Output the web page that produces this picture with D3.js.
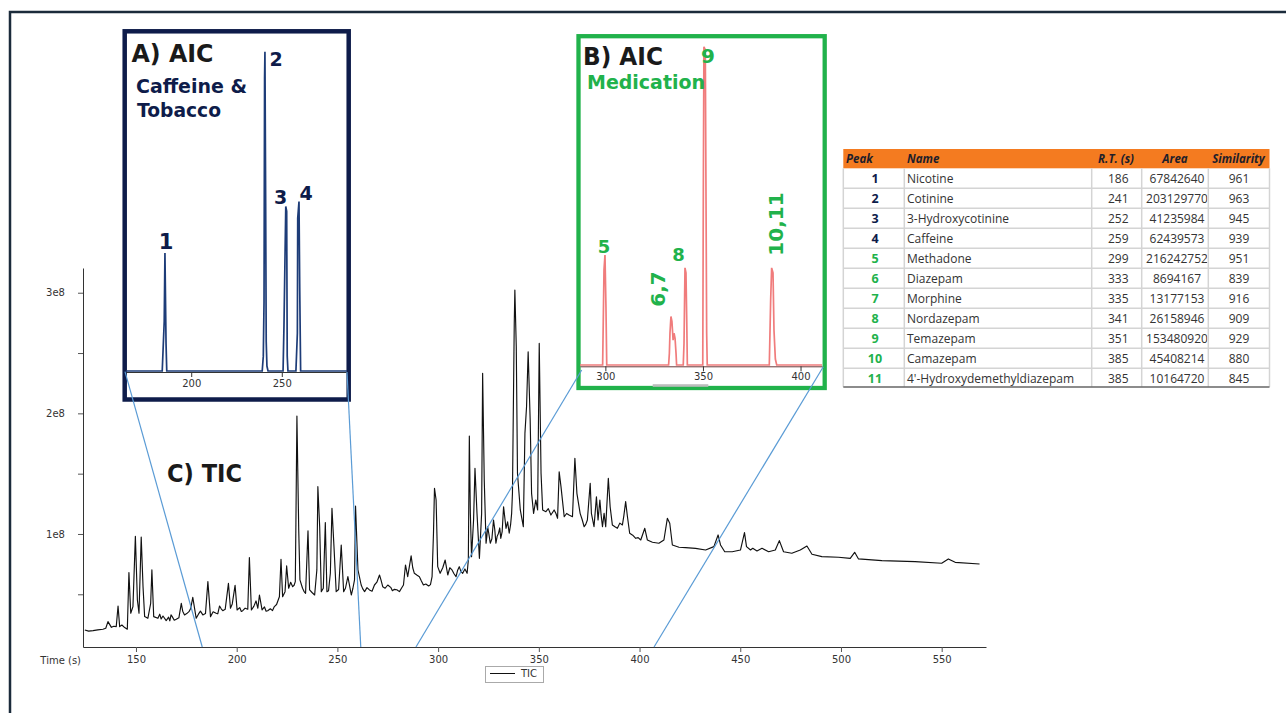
<!DOCTYPE html>
<html><head><meta charset="utf-8">
<script src="https://cdn.jsdelivr.net/npm/d3@7"></script>
<style>body{margin:0;background:#fff}svg{display:block}</style>
</head><body>
<svg id="c" width="1286" height="713"></svg>
<script>
// ---------- DATA ----------
// TIC chromatogram: time (s) and intensity (in units of 1e6 counts) — main peaks
const ticTimes = [124.6,128.7,133.6,136.1,137.8,140.2,141.1,141.9,144.4,145.7,146.5,147.4,148.5,149.7,150.7,151.5,152.6,153.5,154.3,155.9,157.3,157.9,158.8,160.9,163.4,165.0,168.0,170.0,172.5,174.1,176.3,178.2,179.9,183.2,185.7,187.0,189.8,191.5,193.1,195.9,196.9,199.2,200.2,203.0,205.5,206.3,207.3,209.6,210.5,211.3,212.6,215.4,218.7,221.2,222.0,222.8,224.0,224.8,225.8,227.8,229.1,229.4,229.9,230.8,231.4,232.7,234.2,235.4,236.2,238.7,239.8,240.3,241.2,242.0,244.0,244.8,246.5,247.3,248.3,249.4,251.9,253.1,255.2,256.9,258.5,259.0,260.2,261.8,263.5,265.9,268.4,270.9,272.5,275.0,278.3,280.8,282.8,283.8,284.9,286.6,288.2,290.7,292.7,295.3,297.0,297.7,298.2,299.0,299.8,301.0,303.5,304.8,306.9,308.9,310.5,312.2,314.4,315.0,315.5,316.0,316.6,317.6,318.3,319.3,320.5,321.6,322.1,322.9,323.8,324.6,325.9,327.5,328.7,330.0,331.1,332.5,333.7,335.3,336.5,336.9,337.8,338.1,338.8,339.4,340.8,342.3,343.1,343.9,344.7,345.7,346.4,347.4,348.5,349.4,350.2,351.1,351.9,353.5,356.0,357.6,359.3,360.1,361.0,362.6,365.0,366.7,367.9,368.9,370.5,372.5,374.1,375.5,376.1,377.4,378.6,379.4,380.3,381.6,382.4,383.2,384.5,385.4,386.5,389.0,391.5,393.1,394.0,395.1,398.1,400.6,402.6,403.9,406.4,409.6,412.1,413.8,415.0,416.3,419.6,422.9,427.8,432.8,436.9,439.0,440.2,442.3,446.0,450.1,452.1,453.1,455.1,456.2,458.3,460.8,464.1,467.4,469.4,471.5,475.6,479.8,483.1,485.6,490.5,498.8,504.6,506.8,508.7,520.3,536.8,550.0,553.3,556.7,568.8];
const ticValues = [20.4,19.9,21.0,27.3,22.6,23.2,40.3,23.2,22.4,21.0,68,34.3,39.8,98,45.3,34.3,97.4,56.3,31.5,30.1,42.5,70.2,31.5,30.1,32.0,28.2,31.5,29.3,42.5,32.9,35.6,47.5,30.1,32.9,60.5,31.5,34.3,40.3,36.4,59.1,38.4,57.4,37.0,36.4,37.6,80.4,37.0,44.5,38.4,49.4,37.0,36.4,39.8,48.0,79,48.0,52.2,73.5,55.0,56.3,60.5,108.9,197.8,103.3,61.9,55.0,50.8,102.7,53.6,49.4,70.2,139.2,106,52.2,109.4,52.2,67.4,121.3,89.5,52.2,90.9,52.2,64.6,49.4,61.9,123.2,70.2,57.7,52.2,53.6,57.7,66.0,56.3,57.7,54.1,52.2,57.7,74.3,64.6,81.8,67.4,64.6,57.7,56.9,64.6,100.6,137.9,128.2,72.9,67.4,78.4,66.0,70.2,64.6,72.9,67.4,67.4,78.4,181.2,117.1,81.2,111.6,154.4,117.1,79.8,117.1,233.2,144.7,92.3,106,92.3,111.6,92.3,100.6,96.4,122.6,104.7,100.6,117.1,133.7,274.6,302.2,255.2,150.3,119.9,106,183.4,205.5,251.1,194.5,133.7,117.1,128.2,119.9,258.0,150.3,119.9,118.5,115.7,119.9,113,151.6,139.2,114.3,115.7,114.3,162.7,133.7,117.1,106,111.6,142,117.1,106,130.9,111.6,128.2,106,117.1,106,146.2,122.6,107.5,104.7,107.5,126.8,114.3,100.6,96.4,95.0,104.7,95.0,93.1,92.3,95.0,113,108.9,90.9,89,88.7,88.1,86.7,89.5,99.2,90.9,85.3,85.3,86.7,101.1,89.5,86.7,88.1,85.9,88.1,85.3,86.7,94.5,85.3,84,86.7,90.0,83.2,81.2,80.7,79.8,84.8,79.3,77.9,77.1,75.7,79.3,76.5,75.1];
// TIC small baseline wiggles between the main peaks (time s, 1e6 counts)
const ticNoiseTimes = [126.5,131.0,135.0,139.0,143.0,161.8,162.5,166.2,166.8,167.4,169.0,171.3,173.2,175.2,177.2,181.0,182.0,184.5,188.3,190.6,192.3,194.3,197.8,201.5,202.3,204.2,208.5,213.8,214.6,216.7,217.8,219.8,226.8,228.5,233.4,237.4,243.0,245.6,250.6,254.0,257.7,262.6,264.7,267.2,269.6,271.7,273.7,276.6,277.3,279.5,281.8,287.4,289.4,291.7,293.9,296.2,302.3,305.8,307.9,309.7,311.3,313.3,324.2,325.2,326.7,328.1,329.3,330.6,331.8,334.5,336.0,354.7,358.5,363.8,371.5,373.3,380.9,387.8,390.2,392.2,396.6,399.3];
const ticNoiseValues = [19.5,20.5,21.8,23.5,24.5,33.5,29.5,31.0,28.0,33.0,28.5,30.5,36.0,34.0,38.5,33.5,36.0,34.0,35.5,33.8,38.0,37.5,42.0,39.0,35.8,38.5,40.0,39.5,36.0,38.0,36.5,41.5,60.0,57.5,52.5,51.5,55.0,53.0,54.0,55.0,55.0,54.5,55.5,52.5,60.0,61.5,55.0,55.5,53.0,53.8,55.0,72.0,66.0,61.0,58.5,58.0,72,72,67,70,69,71,98,100,96,104,98,105,102,110,108,121,117,117,112,108,116,106,109,115,99,97];

// AIC A (caffeine & tobacco), relative intensity
const aicATimes = [164,184.0,185.1,185.5,186.1,186.5,239.2,239.8,240.2,240.5,240.7,241.1,241.4,241.8,242.4,250.7,251.2,252.2,252.7,253.0,253.4,257.8,258.6,258.8,259.5,259.9,260.4,286];
const aicAValues = [0,0,5,11.9,2.8,0,0,1.5,7,29.5,32.2,16.9,3,0.5,0,0,4.5,16.6,16.1,1.5,0,0,3.8,15.4,17.1,8.4,0,0];

// AIC B (medication), relative intensity
const aicBTimes = [287,298.6,299.3,299.8,300.3,300.7,332.4,332.8,333.1,333.6,334.1,334.7,335.2,335.7,336.2,336.5,339.9,340.3,340.8,341.3,341.7,342.0,349.9,350.2,350.5,351.2,351.6,351.9,352.2,384.0,384.7,385.2,385.9,386.4,387.1,387.8,411];
const aicBValues = [0,0,9.6,11.1,5.9,0,0,1.2,3.2,4.9,4.4,2.5,3.2,2.7,1.2,0,0,2.2,9.8,9.3,4.4,0,0,17.8,32.1,31.8,15.6,3.2,0,0,6.6,9.8,9.3,3.5,0.6,0,0];

// ticks
const mainXTicks = [150,200,250,300,350,400,450,500,550];
const mainYTicks = [50,100,150,200,250,300];
const aicATicks = [200,250];
const aicBTicks = [300,350,400];

// zoom connector targets on the TIC time axis (s)
const connectorTimes = [182.9,261.6,289.0,407.2];

// peak table
const peakIds = [1,2,3,4,5,6,7,8,9,10,11];
const peakNames = ["Nicotine","Cotinine","3-Hydroxycotinine","Caffeine","Methadone","Diazepam","Morphine","Nordazepam","Temazepam","Camazepam","4'-Hydroxydemethyldiazepam"];
const retTimes = [186,241,252,259,299,333,335,341,351,385,385];
const areas = ["67842640","203129770","41235984","62439573","216242752","8694167","13177153","26158946","153480920","45408214","10164720"];
const similarities = [961,963,945,939,951,839,916,909,929,880,845];
const peakGroup = ["A","A","A","A","B","B","B","B","B","B","B"];

// ---------- DRAW ----------
const svg = d3.select("#c");
const NAVY = "#0e1c4a", GREEN = "#21b24b", BLUE = "#5a9bd5";
const tickFont = "DejaVu Sans, Verdana, sans-serif";
const titleFont = "DejaVu Sans, sans-serif";

// outer frame
svg.append("path").attr("d","M10,713V12H1286").attr("fill","none")
  .attr("stroke","#1b2b3b").attr("stroke-width",2.5);

// main scales
const x = d3.scaleLinear().domain([123.7,572]).range([83,986]);
const y = d3.scaleLinear().domain([6.3,320.5]).range([647,268]);

const yAx = svg.append("g").attr("transform","translate(83,0)")
  .call(d3.axisLeft(y).tickValues(mainYTicks).tickSize(5).tickSizeOuter(0)
    .tickFormat(v => v % 100 === 0 ? (v/100)+"e8" : ""));
const xAx = svg.append("g").attr("transform","translate(0,647)")
  .call(d3.axisBottom(x).tickValues(mainXTicks).tickSize(5).tickSizeOuter(0).tickFormat(d3.format("d")));
[yAx,xAx].forEach(g=>{
  g.select(".domain").attr("stroke","#333");
  g.selectAll(".tick line").attr("stroke","#555");
  g.selectAll("text").attr("fill","#333").attr("font-family",tickFont).attr("font-size",10);
});
yAx.selectAll("text").attr("x",-18);
xAx.selectAll("text").attr("y",9);

svg.append("text").attr("x",81).attr("y",664).attr("text-anchor","end")
  .attr("font-family",tickFont).attr("font-size",10).attr("fill","#333").text("Time (s)");

// TIC line (main peaks merged with baseline wiggles, ordered by time)
const ticData = ticTimes.map((t,i)=>[t,ticValues[i]])
  .concat(ticNoiseTimes.map((t,i)=>[t,ticNoiseValues[i]]))
  .sort((a,b)=>a[0]-b[0]);
svg.append("path").datum(ticData).attr("fill","none").attr("stroke","#111").attr("stroke-width",1.15)
  .attr("stroke-linejoin","round")
  .attr("d", d3.line().x(d=>x(d[0])).y(d=>y(d[1])));

// legend
svg.append("rect").attr("x",485.5).attr("y",666.5).attr("width",58).attr("height",16)
  .attr("fill","#fff").attr("stroke","#aaa");
svg.append("line").attr("x1",490).attr("x2",515).attr("y1",673.5).attr("y2",673.5).attr("stroke","#111");
svg.append("text").attr("x",521).attr("y",677).attr("font-family",tickFont).attr("font-size",10)
  .attr("fill","#333").text("TIC");

svg.append("text").attr("x",167).attr("y",482).attr("font-family",titleFont).attr("font-weight","bold")
  .attr("font-size",25).attr("textLength",75).attr("lengthAdjust","spacingAndGlyphs")
  .attr("fill","#1a1a1a").text("C) TIC");

// ---------- Inset A ----------
const xA = d3.scaleLinear().domain([164,286]).range([126,347]);
const yA = d3.scaleLinear().domain([0,34]).range([371,34]);
svg.append("rect").attr("x",124.7).attr("y",31.3).attr("width",224).attr("height",368.2)
  .attr("fill","#fff").attr("stroke",NAVY).attr("stroke-width",4.5);
const aAx = svg.append("g").attr("transform","translate(0,372)")
  .call(d3.axisBottom(xA).tickValues(aicATicks).tickSize(5).tickSizeOuter(0));
aAx.select(".domain").attr("stroke","#333");
aAx.selectAll(".tick line").attr("stroke","#333");
aAx.selectAll("text").attr("fill","#333").attr("font-family",tickFont).attr("font-size",10).attr("y",8);
const aData = aicATimes.map((t,i)=>[t,aicAValues[i]]);
svg.append("path").datum(aData).attr("fill","none").attr("stroke","#1d3c78").attr("stroke-width",1.7)
  .attr("d", d3.line().x(d=>xA(d[0])).y(d=>yA(d[1])));

svg.append("text").attr("x",131.5).attr("y",61.5).attr("font-family",titleFont).attr("font-weight","bold")
  .attr("font-size",25).attr("textLength",82).attr("lengthAdjust","spacingAndGlyphs")
  .attr("fill","#1a1a1a").text("A) AIC");
svg.append("text").attr("x",136).attr("y",92.7).attr("font-family",titleFont).attr("font-weight","bold")
  .attr("font-size",19).attr("textLength",111).attr("lengthAdjust","spacingAndGlyphs")
  .attr("fill",NAVY).text("Caffeine &");
svg.append("text").attr("x",137).attr("y",117).attr("font-family",titleFont).attr("font-weight","bold")
  .attr("font-size",19).attr("textLength",84).attr("lengthAdjust","spacingAndGlyphs")
  .attr("fill",NAVY).text("Tobacco");
const aLabels = [["1",166,249.3,21],["2",276,66,19],["3",280.5,204,19],["4",306,200,19]];
aLabels.forEach(l=>svg.append("text").attr("x",l[1]).attr("y",l[2]).attr("text-anchor","middle")
  .attr("font-family",titleFont).attr("font-weight","bold").attr("font-size",l[3]).attr("fill",NAVY).text(l[0]));

// ---------- Inset B ----------
const xB = d3.scaleLinear().domain([287,411]).range([580,822]);
const yB = d3.scaleLinear().domain([0,34]).range([365,28]);
svg.append("rect").attr("x",578.5).attr("y",36.2).attr("width",246.2).attr("height",351.8)
  .attr("fill","#fff").attr("stroke",GREEN).attr("stroke-width",4.3);
const bData = aicBTimes.map((t,i)=>[t,aicBValues[i]]);
svg.append("path").datum(bData).attr("fill","none").attr("stroke","#f07c7c").attr("stroke-width",1.7)
  .attr("d", d3.line().x(d=>xB(d[0])).y(d=>yB(d[1])));
const bAx = svg.append("g").attr("transform","translate(0,366.3)")
  .call(d3.axisBottom(xB).tickValues(aicBTicks).tickSize(5).tickSizeOuter(0));
bAx.select(".domain").attr("stroke","#6a3a3a");
bAx.selectAll(".tick line").attr("stroke","#333");
bAx.selectAll("text").attr("fill","#333").attr("font-family",tickFont).attr("font-size",10).attr("y",7);
svg.append("rect").attr("x",652.7).attr("y",384.2).attr("width",55.6).attr("height",2.6).attr("fill","#bdbdbd");

svg.append("text").attr("x",583).attr("y",65).attr("font-family",titleFont).attr("font-weight","bold")
  .attr("font-size",25).attr("textLength",80).attr("lengthAdjust","spacingAndGlyphs")
  .attr("fill","#1a1a1a").text("B) AIC");
svg.append("text").attr("x",587).attr("y",88.5).attr("font-family",titleFont).attr("font-weight","bold")
  .attr("font-size",19).attr("textLength",118).attr("lengthAdjust","spacingAndGlyphs")
  .attr("fill",GREEN).text("Medication");
const bLabels = [["5",604,253,18],["8",678.5,261,18],["9",708,63,20]];
bLabels.forEach(l=>svg.append("text").attr("x",l[1]).attr("y",l[2]).attr("text-anchor","middle")
  .attr("font-family",titleFont).attr("font-weight","bold").attr("font-size",l[3]).attr("fill",GREEN).text(l[0]));
const bRot = [["6,7",658,289],["10,11",775.5,224]];
bRot.forEach(l=>svg.append("text").attr("transform",`translate(${l[1]+7},${l[2]}) rotate(-90)`)
  .attr("text-anchor","middle").attr("font-family",titleFont).attr("font-weight","bold")
  .attr("font-size",20).attr("fill",GREEN).text(l[0]));

// ---------- connectors ----------
const connTops = [[xA.range()[0]-1,371.7],[xA.range()[1],372],[xB.range()[0]+1.7,370],[xB.range()[1]+1.3,366.7]];
connectorTimes.forEach((t,i)=>svg.append("line")
  .attr("x1",connTops[i][0]).attr("y1",connTops[i][1]).attr("x2",x(t)).attr("y2",647)
  .attr("stroke",BLUE).attr("stroke-width",1.2));

// ---------- table ----------
const T = {x0:843.3, x1:904.3, x2:1091.7, x3:1141.7, x4:1208.3, x5:1269.5, top:149, head:168.3, row:20};
const tg = svg.append("g");
tg.append("rect").attr("x",T.x0).attr("y",T.top).attr("width",T.x5-T.x0).attr("height",T.head-T.top).attr("fill","#f47b20");
const tfont = "Open Sans, Noto Sans, sans-serif";
const hdr = [["Peak",846,"start"],["Name",907,"start"],["R.T. (s)",1134,"end"],["Area",1175,"middle"],["Similarity",1238.5,"middle"]];
hdr.forEach(h=>tg.append("text").attr("x",h[1]).attr("y",T.top+13.5).attr("text-anchor",h[2])
  .attr("font-family",tfont).attr("font-size",11.5).attr("font-weight","bold").attr("font-style","italic")
  .attr("fill","#1e1e2a").text(h[0]));
const nRows = peakIds.length;
const yEnd = T.head + nRows*T.row;
for(let i=1;i<nRows;i++){
  tg.append("line").attr("x1",T.x0).attr("x2",T.x5).attr("y1",T.head+i*T.row).attr("y2",T.head+i*T.row)
    .attr("stroke","#d4d4d4").attr("stroke-width",1.5);
}
[T.x0,T.x1,T.x2,T.x3,T.x4,T.x5].forEach(cx=>tg.append("line").attr("x1",cx).attr("x2",cx)
  .attr("y1",T.head).attr("y2",yEnd-1.5).attr("stroke","#d4d4d4").attr("stroke-width",1.5));
tg.append("line").attr("x1",T.x0).attr("x2",T.x5).attr("y1",yEnd-1.2).attr("y2",yEnd-1.2).attr("stroke","#666").attr("stroke-width",1.5);
svg.append("clipPath").attr("id","areaClip").append("rect").attr("x",T.x3+1).attr("y",T.head).attr("width",T.x4-T.x3-2).attr("height",nRows*T.row);
peakIds.forEach((id,i)=>{
  const cy = T.head + i*T.row + T.row/2 + 4.5;
  tg.append("text").attr("x",875).attr("y",cy).attr("text-anchor","middle").attr("font-family",tfont)
    .attr("font-size",12.5).attr("font-weight","bold").attr("fill",peakGroup[i]==="A"?NAVY:GREEN).text(id);
  tg.append("text").attr("x",907).attr("y",cy).attr("font-family",tfont).attr("font-size",12)
    .attr("fill","#333").text(peakNames[i]);
  tg.append("text").attr("x",1128.5).attr("y",cy).attr("text-anchor","end").attr("font-family",tfont).attr("font-size",12)
    .attr("fill","#333").text(retTimes[i]);
  tg.append("text").attr("x",1177).attr("y",cy).attr("text-anchor","middle").attr("font-family",tfont).attr("font-size",12)
    .attr("fill","#333").attr("clip-path","url(#areaClip)").text(areas[i]);
  tg.append("text").attr("x",1239).attr("y",cy).attr("text-anchor","middle").attr("font-family",tfont).attr("font-size",12)
    .attr("fill","#333").text(similarities[i]);
});
</script>
</body></html>
